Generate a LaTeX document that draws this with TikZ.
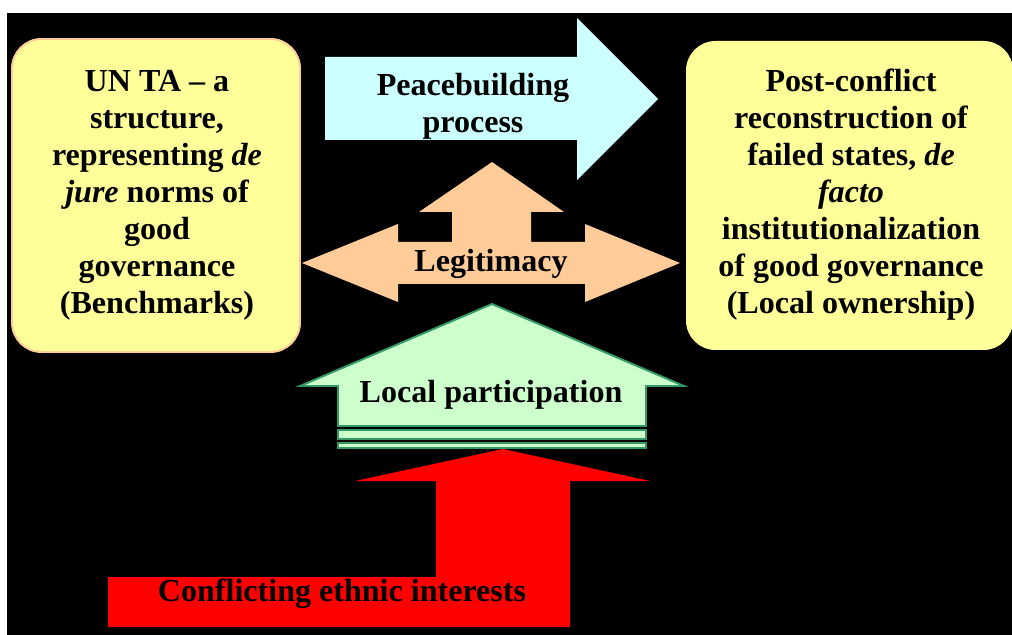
\documentclass[tikz,border=0pt]{standalone}
\usepackage{fontspec}
\setmainfont{Liberation Serif}
\usetikzlibrary{positioning}

\definecolor{paleyellow}{HTML}{FFFF99}
\definecolor{peach}{HTML}{FFCC99}
\definecolor{palecyan}{HTML}{CCFFFF}
\definecolor{palegreen}{HTML}{CCFFCC}
\definecolor{darkgreen}{HTML}{339966}

\tikzset{
  txt/.style={font=\fontsize{22.8}{26.3}\selectfont\bfseries, align=center, inner sep=0pt, text=black},
  goalbox/.style={fill=paleyellow, rounded corners=21pt},
  greenarrow/.style={fill=palegreen, draw=darkgreen, line width=1.4pt}
}

\begin{document}
\begin{tikzpicture}[x=0.025cm, y=-0.025cm]
\useasboundingbox (0,0) rectangle (1012,635);
\fill[white] (0,0) rectangle (1012,635);
\fill[black] (7,13) rectangle (1012,635);

% the two goal boxes
\draw[goalbox, draw=peach, line width=1.4pt] (12,39) rectangle (300,352);
\fill[goalbox] (686,41) rectangle (1013,350);
\node[txt] (ta) at (157,195) {UN TA -- a\\structure,\\representing \textit{de}\\\textit{jure} norms of\\good\\governance\\(Benchmarks)};
\node[txt] (post) at (851,195) {Post-conflict\\reconstruction of\\failed states, \textit{de}\\\textit{facto}\\institutionalization\\of good governance\\(Local ownership)};

% process arrow
\fill[palecyan] (325,57) -- (577,57) -- (577,18) -- (658,99) -- (577,180)
  -- (577,140) -- (325,140) -- cycle;
\node[txt] (peace) at (473,106) {Peacebuilding\\process};

% legitimacy
\fill[peach] (302,263) -- (398,224) -- (398,242) -- (452,242) -- (452,212)
  -- (419,212) -- (492,162) -- (564,212) -- (531,212) -- (531,242)
  -- (585,242) -- (585,224) -- (680,263) -- (585,302) -- (585,284)
  -- (398,284) -- (398,302) -- cycle;
\node[txt] (legit) at (491,264) {Legitimacy};

% conflicting interests
\fill[red] (503,449) -- (650,481) -- (570,481) -- (570,627) -- (108,627)
  -- (108,577) -- (436,577) -- (436,481) -- (355,481) -- cycle;
\node[txt] (conflict) at (342,594) {Conflicting ethnic interests};

% participation
\draw[greenarrow] (492,304) -- (684,386) -- (646,386) -- (646,426)
  -- (338,426) -- (338,386) -- (300,386) -- cycle;
\draw[greenarrow] (338,430) rectangle (646,439);
\draw[greenarrow] (338,443) rectangle (646,448);
\node[txt] (local) at (491,395) {Local participation};
\end{tikzpicture}
\end{document}
